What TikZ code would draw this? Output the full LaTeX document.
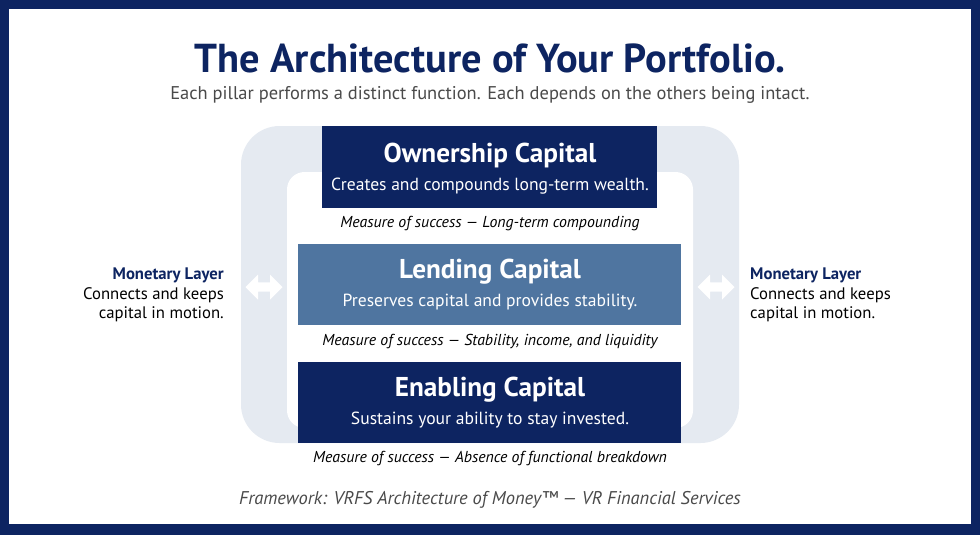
\documentclass[tikz,border=0pt]{standalone}
\usepackage{fontspec}
\setmainfont{PT Sans}
\usetikzlibrary{shapes.arrows}
\definecolor{navy}{HTML}{0D2461}
\definecolor{mid}{HTML}{4F75A0}
\definecolor{band}{HTML}{E5EAF1}
\definecolor{gtext}{HTML}{4A4A4A}
\tikzset{x=0.02cm,y=-0.02cm,
 ptitle/.style={text=white,font=\bfseries\fontsize{15.5}{17}\selectfont},
 psub/.style={text=white,font=\fontsize{10}{12}\selectfont},
 meas/.style={font=\itshape\fontsize{9}{10}\selectfont},
 side/.style={font=\fontsize{9.5}{11}\selectfont},
 darr/.style={double arrow,fill=white,draw=none,minimum height=0.74cm,minimum width=0.5cm,double arrow head extend=0.08cm,inner sep=0.04cm}}
\begin{document}
\begin{tikzpicture}
\fill[navy] (0,0) rectangle (980,535);
\fill[white] (9,9) rectangle (971,524);
\node (title) at (490,58) {\color{navy}\bfseries\fontsize{23}{26}\selectfont The Architecture of Your Portfolio.};
\node (subt) at (490,95) {\color{gtext}\fontsize{10.5}{12}\selectfont Each pillar performs a distinct function. Each depends on the others being intact.};
\fill[band,rounded corners=22] (241,126) rectangle (739,443);
\fill[white,rounded corners=10] (287,172) rectangle (693,428);
\fill[navy] (322,126) rectangle (657,208);
\node[ptitle] (o) at (490,155) {Ownership Capital};
\node[psub] (osub) at (490,186) {Creates and compounds long-term wealth.};
\node[meas] (m1) at (490,224) {Measure of success — Long-term compounding};
\fill[mid] (298,244) rectangle (681,325);
\node[ptitle] (l) at (490,272) {Lending Capital};
\node[psub] (lsub) at (490,302) {Preserves capital and provides stability.};
\node[meas] (m2) at (490,342) {Measure of success — Stability, income, and liquidity};
\fill[navy] (298,362) rectangle (681,443);
\node[ptitle] (e) at (490,390) {Enabling Capital};
\node[psub] (esub) at (490,420) {Sustains your ability to stay invested.};
\node[meas] (m3) at (490,459) {Measure of success — Absence of functional breakdown};
\node[darr] (al) at (264,287) {};
\node[darr] (ar) at (716,287) {};
\node[side,align=right,anchor=north east] (lt) at (230,262) {\color{navy}\bfseries Monetary Layer\\Connects and keeps\\capital in motion.};
\node[side,align=left,anchor=north west] (rt) at (744,262) {\color{navy}\bfseries Monetary Layer\\Connects and keeps\\capital in motion.};
\node (foot) at (490,500) {\color{gtext}\itshape\fontsize{10.5}{12}\selectfont Framework: VRFS Architecture of Money™ — VR Financial Services};
\end{tikzpicture}
\end{document}
